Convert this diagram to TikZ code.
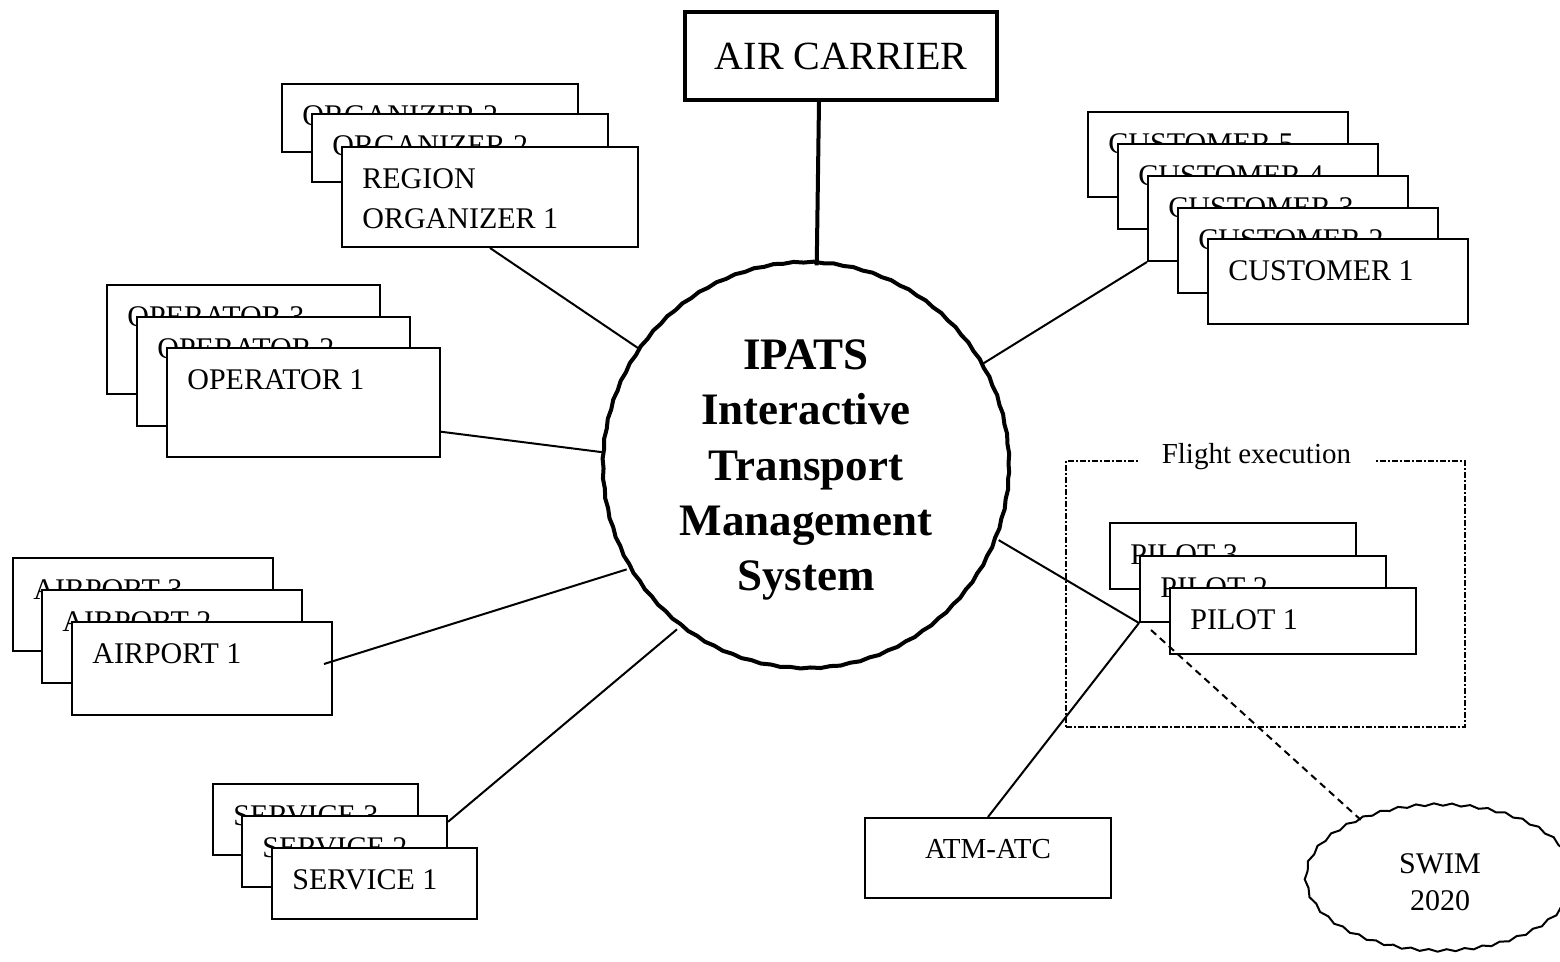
\documentclass[tikz,border=0pt]{standalone}
\usepackage{fontspec}
\setmainfont{Liberation Serif}
\usepackage{tikz}
\usetikzlibrary{positioning, shapes, decorations.pathmorphing}

\begin{document}
\begin{tikzpicture}[x=0.5pt, y=-0.5pt,
        card/.style={rectangle, draw, fill=white, line width=1pt, inner sep=0pt, anchor=north west},
        tag/.style={anchor=north west, inner sep=0pt, xshift=10.5pt, yshift=-11pt, align=left, font=\fontsize{15pt}{20pt}\selectfont},
        midtag/.style={anchor=north, inner sep=0pt, yshift=-11pt, font=\fontsize{14.5pt}{18pt}\selectfont},
        orgbox/.style={card, minimum width=148pt, minimum height=34pt},
        opbox/.style={card, minimum width=136.5pt, minimum height=54.5pt},
        apbox/.style={card, minimum width=130pt, minimum height=46.5pt},
        cubox/.style={card, minimum width=130pt, minimum height=42.5pt},
        svbox/.style={card, minimum width=102.5pt, minimum height=35.5pt},
        plbox/.style={card, minimum width=123pt, minimum height=33pt},
        hub/.style={circle, draw, fill=white, line width=2pt, minimum size=203pt, inner sep=0pt, align=center,
            font=\fontsize{22.5pt}{27.7pt}\selectfont\bfseries, decorate, decoration={snake, amplitude=0.25pt, segment length=10pt}},
        cloudy/.style={ellipse, draw, fill=white, line width=1pt, minimum width=134pt, minimum height=73pt, inner sep=0pt,
            align=center, font=\fontsize{15pt}{18.5pt}\selectfont, decorate, decoration={snake, amplitude=0.6pt, segment length=9pt}},
        frame/.style={rectangle, draw, line width=0.9pt, dash pattern=on 3pt off 1pt on 1pt off 1pt, inner sep=0pt,
            anchor=north west, minimum width=199.5pt, minimum height=133pt},
        link/.style={line width=1pt}]
        \useasboundingbox (0,0) rectangle (1560,962);

        \node[rectangle, draw, line width=2pt, anchor=north west, minimum width=156pt, minimum height=44pt,
            font=\fontsize{20pt}{24pt}\selectfont] (carrier) at (683,10) {AIR CARRIER};

        \node[orgbox, label={[tag]north west:ORGANIZER 2}] (org3) at (281,83) {};
        \node[orgbox, label={[tag]north west:ORGANIZER 2}] (org2) [below right=15pt and 15pt of org3.north west] {};
        \node[orgbox, minimum height=50pt, label={[tag]north west:{REGION\\ORGANIZER 1}}] (org1) [below right=16.5pt and 15pt of org2.north west] {};

        \node[opbox, label={[tag]north west:OPERATOR 3}] (op3) at (106,284) {};
        \node[opbox, label={[tag]north west:OPERATOR 2}] (op2) [below right=16pt and 15pt of op3.north west] {};
        \node[opbox, label={[tag]north west:OPERATOR 1}] (op1) [below right=15.5pt and 15pt of op2.north west] {};

        \node[apbox, label={[tag]north west:AIRPORT 3}] (ap3) at (12,557) {};
        \node[apbox, label={[tag]north west:AIRPORT 2}] (ap2) [below right=16pt and 14.5pt of ap3.north west] {};
        \node[apbox, label={[tag]north west:AIRPORT 1}] (ap1) [below right=16pt and 15pt of ap2.north west] {};

        \node[svbox, label={[tag]north west:SERVICE 3}] (sv3) at (212,783) {};
        \node[svbox, label={[tag]north west:SERVICE 2}] (sv2) [below right=16pt and 14.5pt of sv3.north west] {};
        \node[svbox, label={[tag]north west:SERVICE 1}] (sv1) [below right=16pt and 15pt of sv2.north west] {};

        \node[cubox, label={[tag]north west:CUSTOMER 5}] (cu5) at (1087,111) {};
        \node[cubox, label={[tag]north west:CUSTOMER 4}] (cu4) [below right=16pt and 15pt of cu5.north west] {};
        \node[cubox, label={[tag]north west:CUSTOMER 3}] (cu3) [below right=16pt and 15pt of cu4.north west] {};
        \node[cubox, label={[tag]north west:CUSTOMER 2}] (cu2) [below right=16pt and 15pt of cu3.north west] {};
        \node[cubox, label={[tag]north west:CUSTOMER 1}] (cu1) [below right=15.5pt and 15pt of cu2.north west] {};

        % flight execution group
        \node[frame] (flight) at (1065,460) {};
        \node[fill=white, anchor=base, inner xsep=12pt, inner ysep=1pt, font=\fontsize{14.5pt}{18pt}\selectfont]
            (flighttitle) at ([shift={(-4.5pt,-2pt)}]flight.north) {Flight execution};
        \node[plbox, label={[tag]north west:PILOT 3}] (pl3) at (1109,522) {};
        \node[plbox, label={[tag]north west:PILOT 2}] (pl2) [below right=16.5pt and 15pt of pl3.north west] {};
        \node[plbox, label={[tag]north west:PILOT 1}] (pl1) [below right=16pt and 15pt of pl2.north west] {};

        \node[card, minimum width=123pt, minimum height=40pt, label={[midtag]north:ATM-ATC}] (atm) at (864,817) {};
        \node[cloudy] (swim) at (1440,882) {SWIM\\2020};

        \node[hub] (ipats) at (806,470) {IPATS\\Interactive\\Transport\\Management\\System};

        \draw[line width=2pt] ([xshift=-11pt]carrier.south) -- (ipats.87);
        \draw[link] (org1.south) -- (ipats.144);
        \draw[link] (op1.-12) -- (ipats.175);
        \draw[link] ([shift={(-4.5pt,2.25pt)}]ap1.east) -- (ipats.209);
        \draw[link] (sv2.16) -- (ipats.231);
        \draw[link] (cu3.south west) -- (ipats.31);
        \draw[link] (ipats.340) -- (pl2.south west);
        \draw[link] (pl2.south west) -- (atm.north);
        \draw[link, dash pattern=on 3.5pt off 2.5pt] ([shift={(6pt,-3.5pt)}]pl2.south west) -- (swim.142);
    \end{tikzpicture}
\end{document}
